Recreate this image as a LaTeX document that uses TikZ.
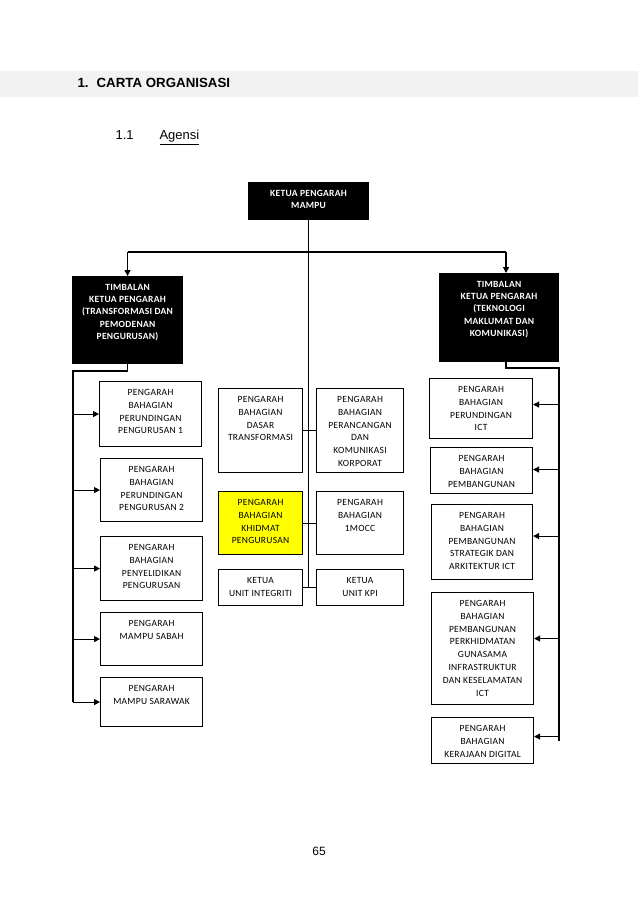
\documentclass[tikz,border=0pt]{standalone}
\usepackage{fontspec}
\setmainfont{Liberation Sans}
\newfontfamily\boxfont[LetterSpace=3]{Carlito}
\usetikzlibrary{arrows.meta}
\definecolor{bandgray}{RGB}{242,242,242}
\definecolor{khidmat}{RGB}{255,255,0}
% top-aligned text inside a box of given width and height (pt)
\newcommand{\boxtext}[3]{\parbox[c][#2pt][t]{#1pt}{\centering\rule{0pt}{14pt}#3}}

\begin{document}
\begin{tikzpicture}[x=1pt, y=-1pt, line width=1.1pt,
    box/.style={draw, inner sep=0pt, anchor=north west, font=\boxfont\fontsize{9.5}{12.8}\selectfont},
    head/.style={box, fill=black, text=white, font=\boxfont\bfseries\fontsize{9.5}{12.2}\selectfont},
    arr/.style={-{Triangle[length=6pt,width=6pt]}}]
        \useasboundingbox (0,0) rectangle (638,901);
        % heading
        \fill[bandgray] (0,71) rectangle (638,97);
        \node[anchor=base west, inner sep=0pt, font=\bfseries\fontsize{13.3}{15}\selectfont] (title) at (77,88) {1.\hspace{8pt}CARTA ORGANISASI};
        \node[anchor=base west, inner sep=0pt, font=\fontsize{13}{15}\selectfont] (secno) at (115,140) {1.1};
        \node[anchor=base west, inner sep=0pt, font=\fontsize{13}{15}\selectfont] (agensi) at (159,140) {\underline{Agensi}};
        % top
        \node[head] (ketua) at (248,182) {\boxtext{120}{37}{KETUA PENGARAH\\MAMPU}};
        \node[head] (tkpA) at (72,276) {\boxtext{110}{87}{TIMBALAN\\KETUA PENGARAH\\(TRANSFORMASI DAN\\PEMODENAN\\PENGURUSAN)}};
        \node[head] (tkpB) at (439,273) {\boxtext{119}{88}{TIMBALAN\\KETUA PENGARAH\\(TEKNOLOGI\\MAKLUMAT DAN\\KOMUNIKASI)}};
        % left column
        \node[box] (bpp1) at (99,381) {\boxtext{102}{65}{PENGARAH\\BAHAGIAN\\PERUNDINGAN\\PENGURUSAN 1}};
        \node[box] (bpp2) at (100,458) {\boxtext{102}{63}{PENGARAH\\BAHAGIAN\\PERUNDINGAN\\PENGURUSAN 2}};
        \node[box] (bpk) at (100,536) {\boxtext{102}{64}{PENGARAH\\BAHAGIAN\\PENYELIDIKAN\\PENGURUSAN}};
        \node[box] (sabah) at (100,612) {\boxtext{102}{53}{PENGARAH\\MAMPU SABAH}};
        \node[box] (sarawak) at (100,677) {\boxtext{102}{49}{PENGARAH\\MAMPU SARAWAK}};
        % middle column
        \node[box] (bdt) at (218,388) {\boxtext{84}{84}{PENGARAH\\BAHAGIAN\\DASAR\\TRANSFORMASI}};
        \node[box] (bpkk) at (316,388) {\boxtext{87}{84}{PENGARAH\\BAHAGIAN\\PERANCANGAN\\DAN\\KOMUNIKASI\\KORPORAT}};
        \node[box, fill=khidmat] (bkp) at (218,491) {\boxtext{84}{63}{PENGARAH\\BAHAGIAN\\KHIDMAT\\PENGURUSAN}};
        \node[box] (mocc) at (316,491) {\boxtext{87}{63}{PENGARAH\\BAHAGIAN\\1MOCC}};
        \node[box] (integriti) at (218,569) {\boxtext{84}{36}{KETUA\\UNIT INTEGRITI}};
        \node[box] (kpi) at (316,569) {\boxtext{87}{36}{KETUA\\UNIT KPI}};
        % right column
        \node[box] (ict) at (429,378) {\boxtext{103}{60}{PENGARAH\\BAHAGIAN\\PERUNDINGAN\\ICT}};
        \node[box] (bpem) at (430,447) {\boxtext{102}{46}{PENGARAH\\BAHAGIAN\\PEMBANGUNAN}};
        \node[box] (strat) at (431,504) {\boxtext{101}{75}{PENGARAH\\BAHAGIAN\\PEMBANGUNAN\\STRATEGIK DAN\\ARKITEKTUR ICT}};
        \node[box] (gunasama) at (431,592) {\boxtext{102}{112}{PENGARAH\\BAHAGIAN\\PEMBANGUNAN\\PERKHIDMATAN\\GUNASAMA\\INFRASTRUKTUR\\DAN KESELAMATAN\\ICT}};
        \node[box] (digital) at (431,717) {\boxtext{102}{46}{PENGARAH\\BAHAGIAN\\KERAJAAN DIGITAL}};
        % connectors
        \coordinate (busY) at (0,252);
        \coordinate (busL) at (tkpA.north |- busY);
        \coordinate (busR) at (506,252);
        \coordinate (spineL) at (73,371);
        \coordinate (spineR) at (559,368);
        \draw (ketua.south) -- (ketua.south |- integriti.east);
        \draw (busL) -- (busR);
        \draw[arr] (busL) -- (tkpA.north);
        \draw[arr] (busR) -- (busR |- tkpB.north);
        \draw (bdt.east) -- (bpkk.west);
        \draw (bkp.east) -- (mocc.west);
        \draw (integriti.east) -- (kpi.west);
        \draw (tkpA.south) |- (spineL) -- (spineL |- sarawak.west);
        \foreach \n in {bpp1,bpp2,bpk,sabah,sarawak}
            \draw[arr] (spineL |- \n.west) -- (\n.west);
        \draw (busR |- tkpB.south) |- (spineR) -- (spineR |- digital.east);
        \foreach \n/\dy in {ict/4,bpem/1,strat/6,gunasama/10,digital/4}
            \draw[arr] ([yshift=\dy pt]spineR |- \n.east) -- ([yshift=\dy pt]\n.east);
        % page number
        \node[anchor=base, inner sep=0pt, font=\fontsize{12}{14}\selectfont] (pnum) at (319,855) {65};
      \end{tikzpicture}
\end{document}
